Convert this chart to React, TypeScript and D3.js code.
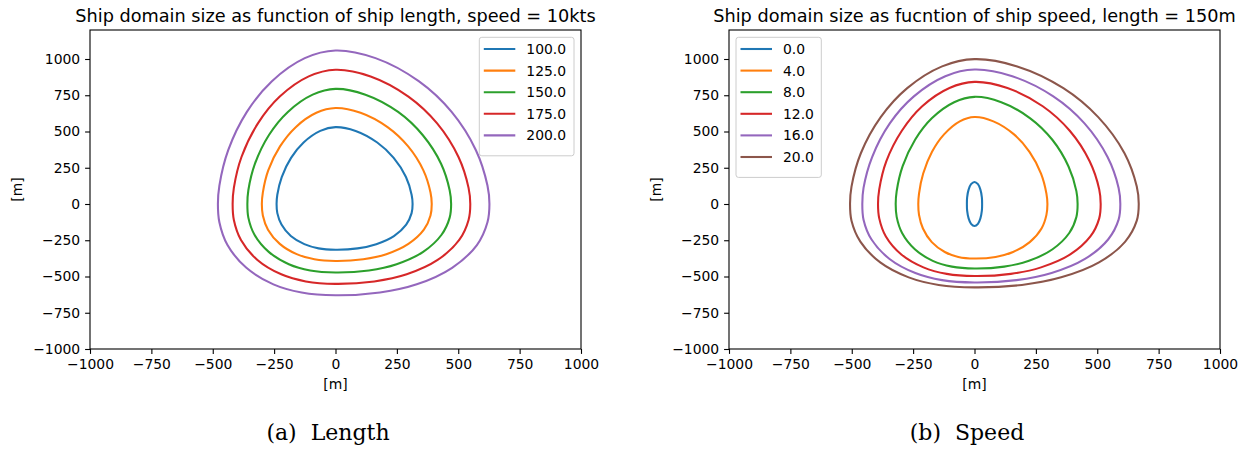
import * as d3 from "d3";
import { useRef, useEffect } from "react";

// domain boundary points [x, y] in metres, clockwise from the bow
const len100 = [[0, 530], [82, 504], [170, 424], [237, 318], [287, 186], [310, 64], [314, 0], [310, -63], [288, -142], [238, -221], [166, -277], [90, -306], [0, -315], [-69, -306], [-127, -277], [-182, -221], [-220, -142], [-237, -63], [-240, 0], [-237, 64], [-219, 186], [-181, 318], [-130, 424], [-62, 504]];
const len125 = [[0, 662], [102, 629], [212, 530], [296, 397], [358, 232], [387, 79], [392, 0], [387, -79], [360, -177], [297, -275], [207, -346], [113, -381], [0, -393], [-86, -381], [-158, -346], [-227, -275], [-275, -177], [-296, -79], [-300, 0], [-296, 79], [-274, 232], [-226, 397], [-162, 530], [-78, 629]];
const len150 = [[0, 794], [122, 754], [255, 635], [355, 476], [430, 278], [465, 95], [471, 0], [465, -94], [432, -212], [357, -330], [249, -415], [136, -458], [0, -472], [-103, -458], [-190, -415], [-272, -330], [-330, -212], [-355, -94], [-359, 0], [-355, 95], [-328, 278], [-271, 476], [-194, 635], [-93, 754]];
const len175 = [[0, 926], [143, 880], [297, 741], [414, 556], [501, 324], [542, 111], [549, 0], [542, -110], [504, -248], [416, -386], [290, -485], [158, -534], [0, -551], [-121, -534], [-221, -485], [-318, -386], [-385, -248], [-414, -110], [-419, 0], [-414, 111], [-383, 324], [-316, 556], [-227, 741], [-109, 880]];
const len200 = [[0, 1059], [163, 1006], [339, 847], [473, 635], [572, 371], [619, 127], [627, 0], [619, -126], [576, -283], [475, -440], [331, -554], [181, -610], [0, -629], [-138, -610], [-253, -554], [-363, -440], [-440, -283], [-473, -126], [-479, 0], [-473, 127], [-437, 371], [-361, 635], [-259, 847], [-125, 1006]];

const spd0 = [[0, 152], [14, 137], [24, 99], [30, 46], [31, 0], [30, -46], [24, -99], [14, -137], [0, -152], [-14, -137], [-24, -99], [-30, -46], [-31, 0], [-30, 46], [-24, 99], [-14, 137]];
const spd4 = [[0, 600], [77, 570], [161, 480], [224, 360], [271, 210], [293, 72], [297, 0], [293, -75], [273, -169], [225, -263], [157, -331], [86, -365], [0, -376], [-66, -365], [-121, -331], [-174, -263], [-210, -169], [-226, -75], [-229, 0], [-226, 72], [-209, 210], [-173, 360], [-124, 480], [-60, 570]];
const spd8 = [[0, 739], [109, 702], [227, 591], [317, 443], [383, 259], [415, 89], [420, 0], [415, -89], [386, -200], [318, -312], [222, -392], [121, -432], [0, -445], [-92, -432], [-170, -392], [-243, -312], [-295, -200], [-317, -89], [-321, 0], [-317, 89], [-293, 259], [-242, 443], [-174, 591], [-83, 702]];
const spd12 = [[0, 842], [134, 800], [278, 674], [388, 505], [469, 295], [508, 101], [514, 0], [508, -99], [472, -224], [390, -348], [271, -437], [148, -482], [0, -497], [-113, -482], [-208, -437], [-298, -348], [-361, -224], [-388, -99], [-393, 0], [-388, 101], [-359, 295], [-296, 505], [-213, 674], [-102, 800]];
const spd16 = [[0, 927], [154, 881], [321, 742], [448, 556], [542, 324], [587, 111], [594, 0], [587, -108], [545, -243], [450, -379], [314, -476], [171, -525], [0, -541], [-132, -525], [-241, -476], [-346, -379], [-420, -243], [-452, -108], [-457, 0], [-452, 111], [-417, 324], [-345, 556], [-247, 742], [-119, 881]];
const spd20 = [[0, 999], [174, 949], [362, 799], [504, 599], [611, 350], [661, 120], [669, 0], [661, -115], [614, -259], [507, -403], [353, -506], [193, -558], [0, -575], [-146, -558], [-268, -506], [-384, -403], [-465, -259], [-501, -115], [-507, 0], [-501, 120], [-463, 350], [-382, 599], [-274, 799], [-132, 949]];

const lengthLabels = ["100.0", "125.0", "150.0", "175.0", "200.0"];
const speedLabels = ["0.0", "4.0", "8.0", "12.0", "16.0", "20.0"];
const colors = ["#1f77b4", "#ff7f0e", "#2ca02c", "#d62728", "#9467bd", "#8c564b"];
const xTicks = [-1000, -750, -500, -250, 0, 250, 500, 750, 1000];
const yTicks = [-1000, -750, -500, -250, 0, 250, 500, 750, 1000];

const FONT = "'DejaVu Sans', sans-serif";
const FS = 13.9;
const TOP = 30;
const BOTTOM = 349;
const AX_W = 491;

function Panel({ left, title, curves, labels, legendLeft }) {
  const gx = useRef(null);
  const gy = useRef(null);
  const x = d3.scaleLinear([-1000, 1000], [left, left + AX_W]);
  const y = d3.scaleLinear([-1000, 1200], [BOTTOM, TOP]);
  const line = d3.line(d => x(d[0]), d => y(d[1])).curve(d3.curveCatmullRomClosed.alpha(0.5));
  const fmt = d3.format("d");

  useEffect(() => {
    const style = g => {
      g.select(".domain").remove();
      g.selectAll("line").attr("stroke", "#000").attr("stroke-width", 1.1);
      g.selectAll("text").attr("font-size", FS).attr("font-family", FONT).attr("fill", "#000");
      g.attr("font-size", null).attr("font-family", null);
    };
    d3.select(gx.current)
      .call(d3.axisBottom(x).tickValues(xTicks).tickFormat(fmt).tickSize(4.9).tickPadding(4.9).tickSizeOuter(0))
      .call(style);
    d3.select(gy.current)
      .call(d3.axisLeft(y).tickValues(yTicks).tickFormat(fmt).tickSize(4.9).tickPadding(4.9).tickSizeOuter(0))
      .call(style);
  }, [left]);

  const rowH = 21.6;
  const legW = legendLeft ? 85.3 : 94.7;
  const legX = legendLeft ? left + 7 : left + AX_W - 7 - legW;
  const legY = TOP + 7.3;
  const legH = 10.5 + rowH * labels.length;
  const cx = left + AX_W / 2;

  return (
    <g>
      <text x={cx} y={21.5} textAnchor="middle" fontFamily={FONT} fontSize={17.7}>{title}</text>
      <g fill="none" strokeWidth={2.08} strokeLinejoin="round">
        {curves.map((c, i) => (
          <path key={i} d={line(c)} stroke={colors[i]} />
        ))}
      </g>
      <rect x={left} y={TOP} width={AX_W} height={BOTTOM - TOP} fill="none" stroke="#000" strokeWidth={1.1} />
      <g ref={gx} transform={`translate(0,${BOTTOM})`} />
      <g ref={gy} transform={`translate(${left},0)`} />
      <text x={cx} y={389} textAnchor="middle" fontFamily={FONT} fontSize={FS}>[m]</text>
      <text transform={`translate(${left - 68},${(TOP + BOTTOM) / 2}) rotate(-90)`} textAnchor="middle" fontFamily={FONT} fontSize={FS}>[m]</text>
      <rect x={legX} y={legY} width={legW} height={legH} rx={2.5} fill="#fff" fillOpacity={0.8} stroke="#ccc" strokeWidth={1} />
      {labels.map((lab, i) => (
        <g key={lab} transform={`translate(${legX},${legY + 11.7 + i * rowH})`}>
          <line x1={4.5} x2={36} stroke={colors[i]} strokeWidth={2.08} />
          <text x={47} dy="0.36em" fontFamily={FONT} fontSize={FS}>{lab}</text>
        </g>
      ))}
    </g>
  );
}

export default function App() {
  return (
    <svg width={1246} height={449} style={{ position: "absolute", left: 0, top: 0, background: "#fff" }}>
      <Panel
        left={90}
        title="Ship domain size as function of ship length, speed = 10kts"
        curves={[len100, len125, len150, len175, len200]}
        labels={lengthLabels}
        legendLeft={false}
      />
      <Panel
        left={729}
        title="Ship domain size as fucntion of ship speed, length = 150m"
        curves={[spd0, spd4, spd8, spd12, spd16, spd20]}
        labels={speedLabels}
        legendLeft={true}
      />
      <text x={328} y={440} textAnchor="middle" fontFamily="'DejaVu Serif', serif" fontSize={22}>(a)&#160; Length</text>
      <text x={967} y={440} textAnchor="middle" fontFamily="'DejaVu Serif', serif" fontSize={22}>(b)&#160; Speed</text>
    </svg>
  );
}
